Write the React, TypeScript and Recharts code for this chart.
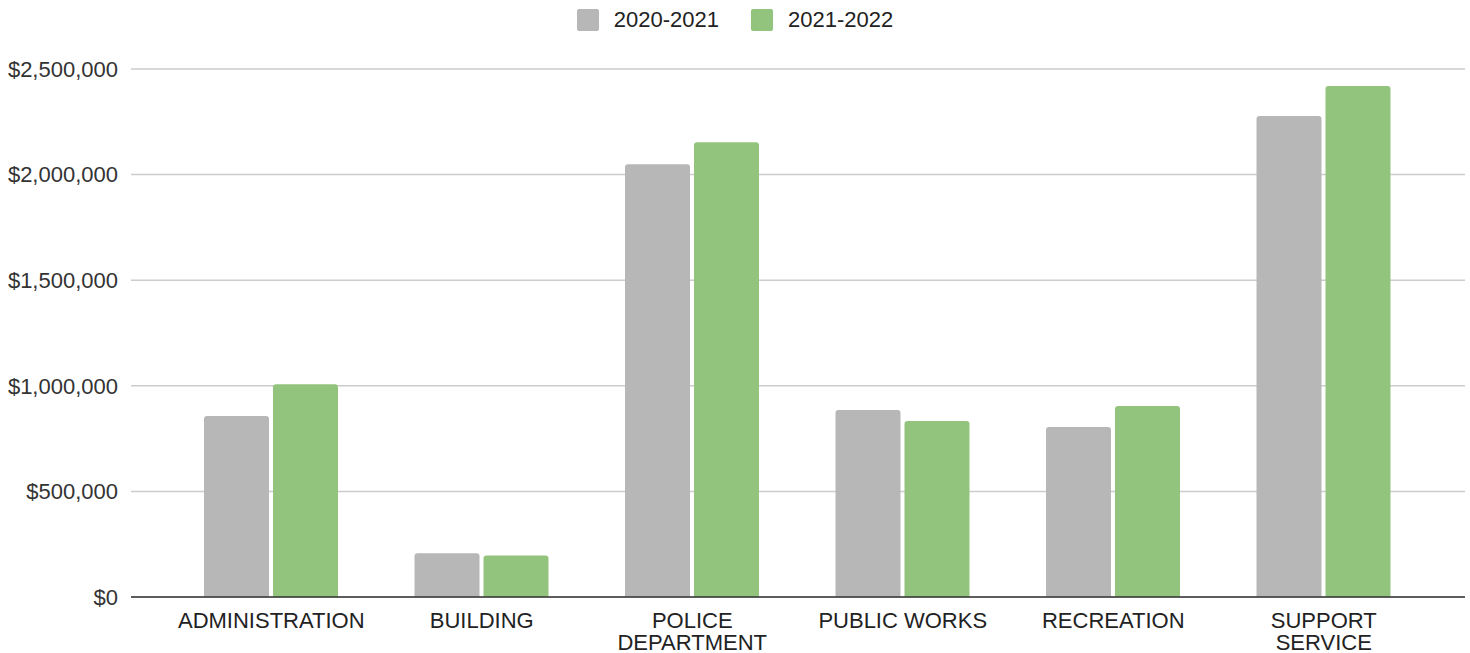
import { BarChart, Bar, XAxis, YAxis, CartesianGrid, Legend } from "recharts";

const departments = [
  "ADMINISTRATION",
  "BUILDING",
  "POLICE DEPARTMENT",
  "PUBLIC WORKS",
  "RECREATION",
  "SUPPORT SERVICE",
];
const fy2021 = [857000, 207000, 2049000, 885000, 805000, 2277000];
const fy2122 = [1007000, 197000, 2153000, 833000, 904000, 2420000];
const yTicks = [0, 500000, 1000000, 1500000, 2000000, 2500000];

const series = [
  { key: "fy2021", name: "2020-2021", color: "#b7b7b7" },
  { key: "fy2122", name: "2021-2022", color: "#93c47d" },
];

const data = departments.map((name, i) => ({
  name,
  fy2021: fy2021[i],
  fy2122: fy2122[i],
}));

const font = "'Liberation Sans', Arial, sans-serif";

const money = (v: number) => "$" + v.toLocaleString("en-US");

// long labels go onto two lines, like the source chart
function splitLabel(label: string) {
  if (label.length > 13 && label.includes(" ")) return label.split(" ");
  return [label];
}

function DeptTick(props: any) {
  const { x, y, payload } = props;
  const lines = splitLabel(payload.value);
  return (
    <text
      x={x}
      y={y + 31}
      textAnchor="middle"
      fontSize={22}
      fontFamily={font}
      fill="#222"
    >
      {lines.map((l, i) => (
        <tspan key={i} x={x} dy={i ? 22 : 0}>
          {l}
        </tspan>
      ))}
    </text>
  );
}

function TopLegend() {
  return (
    <div
      style={{
        display: "flex",
        justifyContent: "center",
        alignItems: "center",
        fontFamily: font,
        fontSize: 22,
        color: "#222",
        height: 40,
      }}
    >
      {series.map((s, i) => (
        <div
          key={s.key}
          style={{ display: "flex", alignItems: "center", marginLeft: i ? 32 : 0 }}
        >
          <span
            style={{
              width: 22,
              height: 22,
              borderRadius: 2,
              background: s.color,
              marginRight: 15,
              display: "inline-block",
            }}
          />
          <span>{s.name}</span>
        </div>
      ))}
    </div>
  );
}

export default function App() {
  return (
    <div style={{ position: "absolute", left: 0, top: 0, width: 1470, height: 653, background: "#fff" }}>
      <BarChart
        width={1470}
        height={653}
        data={data}
        margin={{ top: 69, right: 5, bottom: 26, left: 0 }}
        barGap={4}
        barSize={65}
      >
        <CartesianGrid vertical={false} stroke="#cccccc" strokeWidth={1.5} />
        <XAxis
          dataKey="name"
          interval={0}
          padding={{ left: 35, right: 36 }}
          tickLine={false}
          tickSize={0}
          tickMargin={0}
          axisLine={{ stroke: "#333", strokeWidth: 1.5 }}
          tick={<DeptTick />}
        />
        <YAxis
          width={131}
          domain={[0, 2500000]}
          ticks={yTicks}
          tickFormatter={money}
          axisLine={false}
          tickLine={false}
          tickSize={0}
          tickMargin={13}
          tick={{ fontSize: 22, fontFamily: font, fill: "#333" }}
        />
        <Legend
          verticalAlign="middle"
          content={<TopLegend />}
          wrapperStyle={{ top: 0, left: 0, width: 1470 }}
        />
        {series.map((s) => (
          <Bar
            key={s.key}
            dataKey={s.key}
            name={s.name}
            fill={s.color}
            radius={[3, 3, 0, 0]}
            isAnimationActive={false}
          />
        ))}
      </BarChart>
    </div>
  );
}
